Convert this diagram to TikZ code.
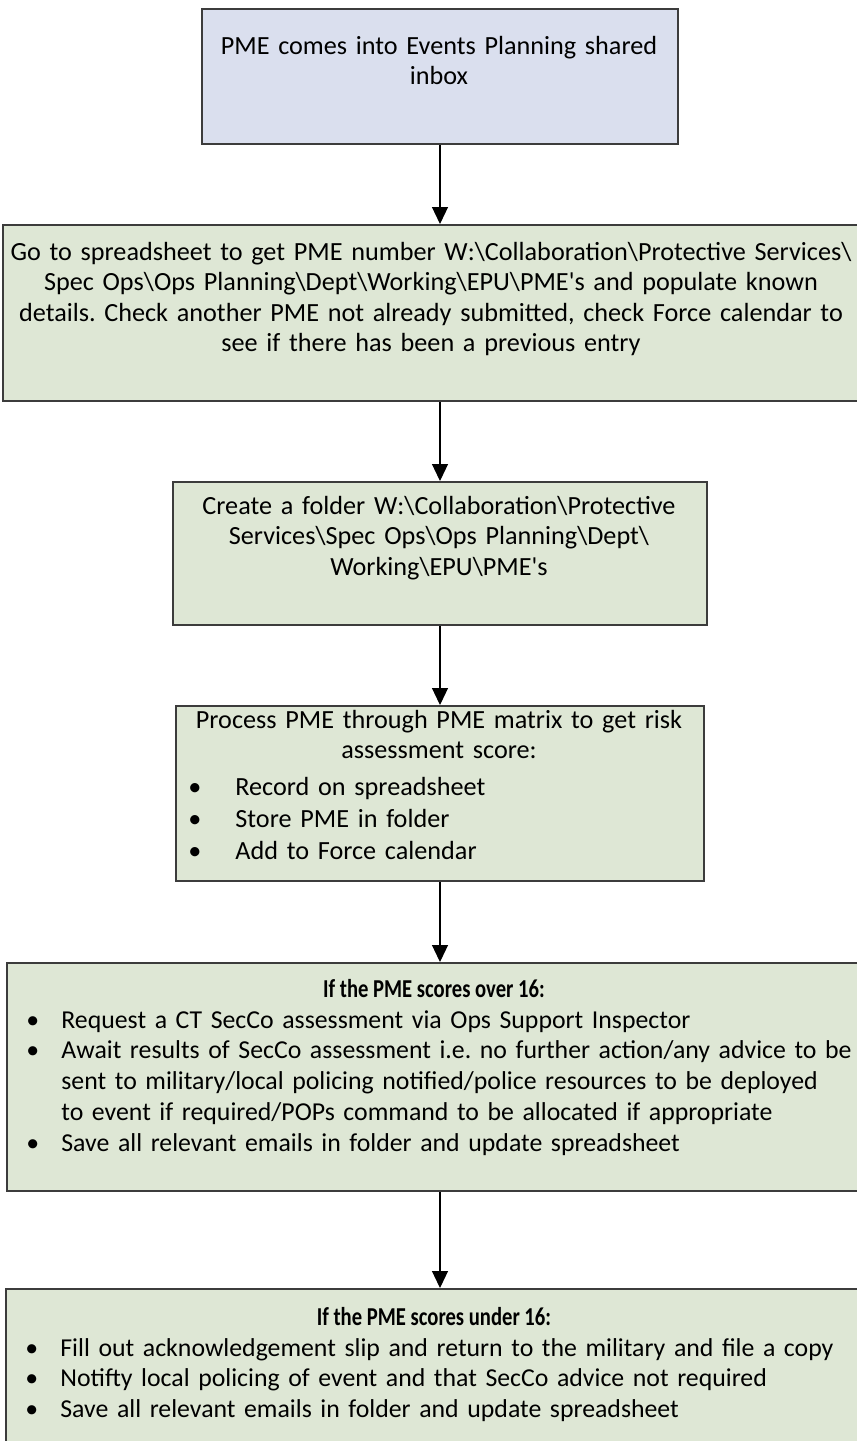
\documentclass[tikz,border=0pt]{standalone}
\usepackage{graphicx}
\usepackage{fontspec}
\setmainfont{Carlito}[Ligatures=TeXOff]
\usetikzlibrary{arrows.meta}
\definecolor{bluefill}{RGB}{218,223,238}
\definecolor{greenfill}{RGB}{222,231,213}
\definecolor{edgecol}{RGB}{60,60,60}
\frenchspacing
\newcommand\bl[3]{\hangindent=#2\hangafter=1\noindent\makebox[#2][l]{\hspace{#1}\textbullet}#3\par}
\newcommand\bs{\textbackslash}
\tikzset{
  boxnode/.style={draw=edgecol, line width=1pt, anchor=north west, inner sep=0pt},
  ctext/.style={anchor=base, inner sep=0pt, align=center, text width=#1},
  ltext/.style={anchor=base west, inner sep=0pt, align=left, text width=#1},
  headtext/.style={anchor=base, inner sep=0pt, font=\fontsize{12.9}{15.25}\selectfont\bfseries},
  listfont/.style={font=\fontsize{12.9}{15.4}\selectfont},
  arr/.style={draw=black, line width=0.6pt, -{Triangle[width=8pt,length=8.5pt]}}
}
\begin{document}
\begin{tikzpicture}[x=0.5pt,y=-0.5pt, font=\fontsize{13.1}{15.25}\selectfont\frenchspacing]
\useasboundingbox (0,0) rectangle (857,1441);
\clip (0,0) rectangle (857,1441);
% boxes
\node[boxnode, fill=bluefill, minimum width=238pt, minimum height=67.5pt] (b1) at (201,8) {};
\node[boxnode, fill=greenfill, minimum width=439pt, minimum height=88pt] (b2) at (2,224) {};
\node[boxnode, fill=greenfill, minimum width=267pt, minimum height=71.5pt] (b3) at (172,481) {};
\node[boxnode, fill=greenfill, minimum width=264pt, minimum height=87.5pt] (b4) at (175,705) {};
\node[boxnode, fill=greenfill, minimum width=437pt, minimum height=114pt] (b5) at (6,962) {};
\node[boxnode, fill=greenfill, minimum width=437pt, minimum height=86pt] (b6) at (5,1288) {};
% texts
\node[ctext=236pt] (t1) at (439,54) {PME comes into Events Planning shared\\inbox};
\node[ctext=436pt] (t2) at (431,260) {Go to spreadsheet to get PME number W:\bs Collaboration\bs Protective Services\bs\\Spec Ops\bs Ops Planning\bs Dept\bs Working\bs EPU\bs PME's and populate known\\details. Check another PME not already submitted, check Force calendar to\\see if there has been a previous entry};
\node[ctext=265pt] (t3) at (439,514) {Create a folder W:\bs Collaboration\bs Protective\\Services\bs Spec Ops\bs Ops Planning\bs Dept\bs\\Working\bs EPU\bs PME's};
\node[ctext=262pt] (t4h) at (439,728) {Process PME through PME matrix to get risk\\assessment score:};
\node[ltext=262pt, font=\fontsize{13.1}{16}\selectfont] (t4l) at (175,795) {\bl{6.5pt}{30pt}{Record on spreadsheet}\bl{6.5pt}{30pt}{Store PME in folder}\bl{6.5pt}{30pt}{Add to Force calendar}};
\node[headtext] (t5h) at (434,997) {\scalebox{0.8}[1]{If the PME scores over 16:}};
\node[ltext=440pt, listfont] (t5l) at (6,1028) {\bl{10pt}{27.5pt}{Request a CT SecCo assessment via Ops Support Inspector}\bl{10pt}{27.5pt}{Await results of SecCo assessment i.e. no further action/any advice to be\newline sent to military/local policing notified/police resources to be deployed\newline to event if required/POPs command to be allocated if appropriate}\bl{10pt}{27.5pt}{Save all relevant emails in folder and update spreadsheet}};
\node[headtext] (t6h) at (434,1325) {\scalebox{0.8}[1]{If the PME scores under 16:}};
\node[ltext=440pt, listfont] (t6l) at (5,1356) {\bl{10pt}{27.5pt}{Fill out acknowledgement slip and return to the military and file a copy}\bl{10pt}{27.5pt}{Notifty local policing of event and that SecCo advice not required}\bl{10pt}{27.5pt}{Save all relevant emails in folder and update spreadsheet}};
% arrows
\draw[arr] (b1.south) -- (b1.south |- b2.north);
\draw[arr] (b3.north |- b2.south) -- (b3.north);
\draw[arr] (b3.south) -- (b4.north);
\draw[arr] (b4.south) -- (b4.south |- b5.north);
\coordinate (c5) at (b4.south |- b5.south);
\draw[arr] (c5) -- (c5 |- b6.north);
\end{tikzpicture}
\end{document}
